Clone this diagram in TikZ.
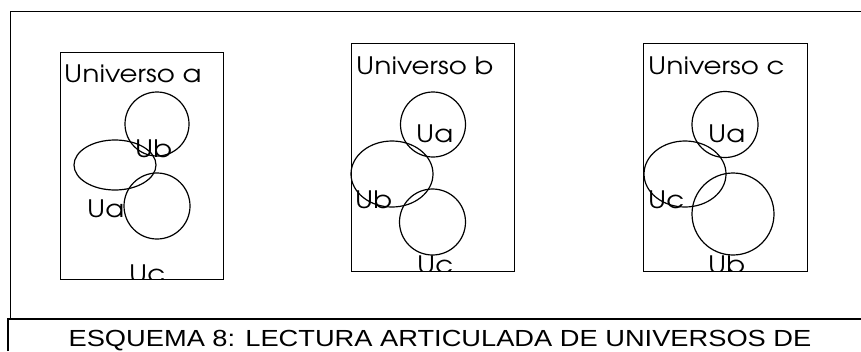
\documentclass[tikz,border=0pt]{standalone}
\usepackage{fontspec}
\setmainfont[FakeStretch=1.17]{Liberation Sans}
\newfontfamily\gothic[FakeStretch=1.15]{texgyreadventor-regular.otf}
\usepackage{tikz}

\tikzset{
	universe/.style={line width=0.9pt},
	set/.style={line width=1.2pt},
	tag/.style={anchor=base west, inner sep=0pt, font=\gothic\fontsize{24}{24}\selectfont}
}

\begin{document}
\begin{tikzpicture}[x=1pt, y=-1pt]
	\useasboundingbox (0, 0) rectangle (861, 351);
	
	\draw [line width=0.9pt] (10, 319) -- (10, 11) -- (861, 11);
	\draw [line width=1.4pt] (8, 351) -- (8, 319) -- (861, 319);
	\node [anchor=base, inner sep=0pt, font=\fontsize{23.3}{23.3}\selectfont] (caption) at (440, 346.5) {ESQUEMA 8: LECTURA ARTICULADA DE UNIVERSOS DE};
	
	\draw [universe] (60, 52) rectangle (223, 279);
	\draw [set] (157, 124) circle [radius=32];
	\draw [set] (115, 165) ellipse [x radius=41, y radius=25];
	\draw [set] (157, 206) circle [radius=33];
	\node [tag] (titlea) at (64, 82) {Universo a};
	\node [tag] (uba) at (135, 157) {Ub};
	\node [tag] (uaa) at (87, 217) {Ua};
	\begin{scope}
		\clip (60, 52) rectangle (223, 279);
		\node [tag] (uca) at (129, 282) {Uc};
	\end{scope}
	
	\draw [universe] (351, 43) rectangle (514, 271);
	\draw [set] (433, 124.5) circle [radius=32.5];
	\draw [set] (392, 174) ellipse [x radius=41, y radius=33];
	\draw [set] (432.5, 222) circle [radius=33];
	\node [tag] (titleb) at (356, 74) {Universo b};
	\node [tag] (uab) at (416, 142) {Ua};
	\node [tag] (ubb) at (355, 208) {Ub};
	\begin{scope}
		\clip (351, 43) rectangle (514, 271);
		\node [tag] (ucb) at (417, 273.5) {Uc};
	\end{scope}
	
	\draw [universe] (643, 43) rectangle (807, 271);
	\draw [set] (725, 124.5) circle [radius=33];
	\draw [set] (685, 174) ellipse [x radius=41, y radius=33];
	\draw [set] (733, 214) circle [radius=41];
	\node [tag] (titlec) at (648, 74) {Universo c};
	\node [tag] (uac) at (708, 142) {Ua};
	\node [tag] (ucc) at (648, 208) {Uc};
	\begin{scope}
		\clip (643, 43) rectangle (807, 271);
		\node [tag] (ubc) at (708, 273.5) {Ub};
	\end{scope}
\end{tikzpicture}
\end{document}
